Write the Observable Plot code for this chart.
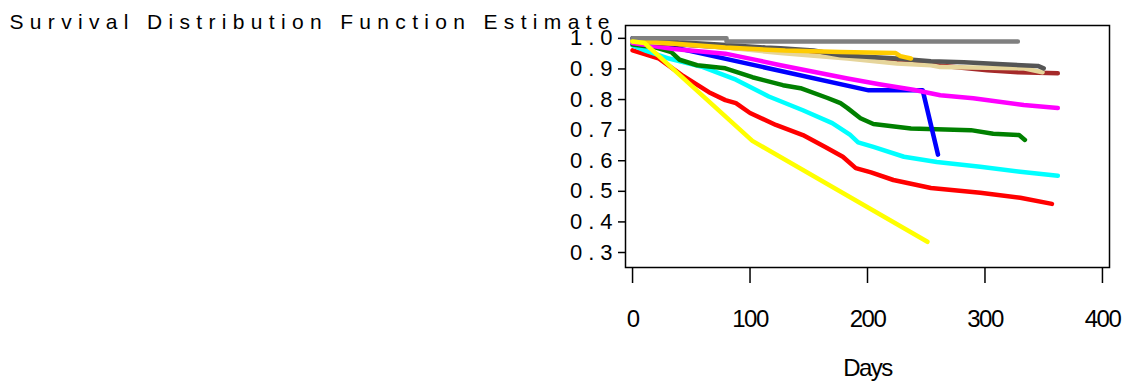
<!DOCTYPE html>
<html><head><meta charset="utf-8">
<script src="https://cdn.jsdelivr.net/npm/d3@7"></script>
<script src="https://cdn.jsdelivr.net/npm/@observablehq/plot@0.6"></script>
<style>body{margin:0;background:#fff;}</style>
</head><body><div id="chart"></div>
<script>
// ---- data: [day, survival estimate] ----
const redPts = [[0,0.961],[22,0.935],[42,0.88],[65,0.824],[79,0.798],[88,0.788],[100,0.756],[122,0.717],[145,0.684],[164,0.645],[179,0.613],[190,0.576],[203,0.562],[222,0.537],[254,0.511],[296,0.495],[330,0.479],[357,0.459]];
const cyanPts = [[0,0.977],[11,0.96],[31,0.934],[60,0.906],[88,0.865],[116,0.81],[145,0.765],[170,0.723],[185,0.685],[192,0.66],[205,0.645],[231,0.613],[259,0.596],[296,0.58],[330,0.564],[362,0.551]];
const greenPts = [[0,0.98],[20,0.97],[33,0.955],[40,0.93],[55,0.912],[79,0.902],[102,0.873],[128,0.847],[143,0.837],[166,0.805],[177,0.788],[183,0.772],[194,0.739],[205,0.72],[237,0.705],[288,0.7],[307,0.688],[329,0.684],[334,0.668]];
const bluePts = [[0,1.0],[201,0.83],[247,0.83],[260,0.62]];
const magentaPts = [[0,0.985],[35,0.965],[79,0.95],[107,0.928],[126,0.912],[155,0.89],[183,0.869],[210,0.85],[239,0.832],[262,0.814],[290,0.804],[333,0.782],[362,0.772]];
const brownPts = [[0,0.99],[100,0.965],[149,0.95],[200,0.935],[259,0.912],[302,0.896],[328,0.889],[362,0.886]];
const tanPts = [[0,0.99],[36,0.983],[80,0.97],[126,0.952],[183,0.934],[225,0.918],[254,0.912],[262,0.906],[333,0.902],[349,0.889]];
const darkGrayPts = [[0,1.0],[39,0.987],[73,0.98],[113,0.97],[126,0.968],[154,0.96],[177,0.945],[225,0.934],[254,0.925],[282,0.922],[315,0.915],[345,0.91],[350,0.902]];
const goldPts = [[0,0.993],[79,0.97],[130,0.96],[177,0.955],[224,0.952],[228,0.942],[237,0.934]];
const grayPts = [[0,1.0],[80,1.0],[80,0.99],[328,0.99]];
const yellowPts = [[0,0.99],[10,0.985],[102,0.665],[251,0.335]];

const yTicks = [0.3,0.4,0.5,0.6,0.7,0.8,0.9,1.0];
const xTicks = [0,100,200,300,400];
const titleText = "Survival Distribution Function Estimate";
const xLabel = "Days";

// ---- styles (drawing order bottom -> top) ----
const layers = [
  [redPts, "#ff0000"], [cyanPts, "#00ffff"], [greenPts, "#008000"], [bluePts, "#0000ff"],
  [magentaPts, "#ff00ff"], [brownPts, "#a52a2a"], [tanPts, "#e6d59b"], [darkGrayPts, "#555555"],
  [goldPts, "#ffcc00"], [grayPts, "#808080"], [yellowPts, "#ffff00"]
];

const plot = Plot.plot({
  width: 1130, height: 392,
  marginLeft: 625, marginRight: 21, marginTop: 25, marginBottom: 125,
  x: {domain: [-6, 406]},
  y: {domain: [0.251, 1.042]},
  style: {fontFamily: "'Liberation Sans', Arial, sans-serif", background: "#fff", color: "#000", overflow: "visible"},
  marks: [
    Plot.axisY({ticks: yTicks, tickSize: 7, tickPadding: 0, strokeWidth: 1.5, tickFormat: d => d.toFixed(1), fontSize: 22, label: null}),
    Plot.axisX({ticks: xTicks, tickSize: 16, tickPadding: 26, strokeWidth: 1.5, fontSize: 24, label: null}),
    ...layers.map(([pts, c]) => Plot.line(pts, {x: d => d[0], y: d => d[1], stroke: c, strokeWidth: 4.5, strokeLinecap: "round", strokeLinejoin: "round"})),
    Plot.frame({stroke: "#000", strokeWidth: 1.5}),
    Plot.text([xLabel], {text: d => d, frameAnchor: "bottom", dy: 108, fontSize: 24}),
    Plot.text([titleText], {text: d => d, frameAnchor: "top-left", textAnchor: "start", dx: -616, dy: -11, fontSize: 21})
  ]
});
document.getElementById("chart").appendChild(plot);
// SAS-like spacing of labels
d3.select(plot).selectAll('g[aria-label="y-axis tick label"] text').attr("letter-spacing", 6);
d3.select(plot).selectAll('g[aria-label="x-axis tick label"] text').attr("letter-spacing", -1.5);
d3.select(plot).selectAll('text').filter(function(){ return this.textContent === xLabel; }).attr("letter-spacing", -1.5);
d3.select(plot).selectAll('text').filter(function(){ return this.textContent === titleText; })
  .attr("textLength", 600).attr("lengthAdjust", "spacing");
</script>
</body></html>
